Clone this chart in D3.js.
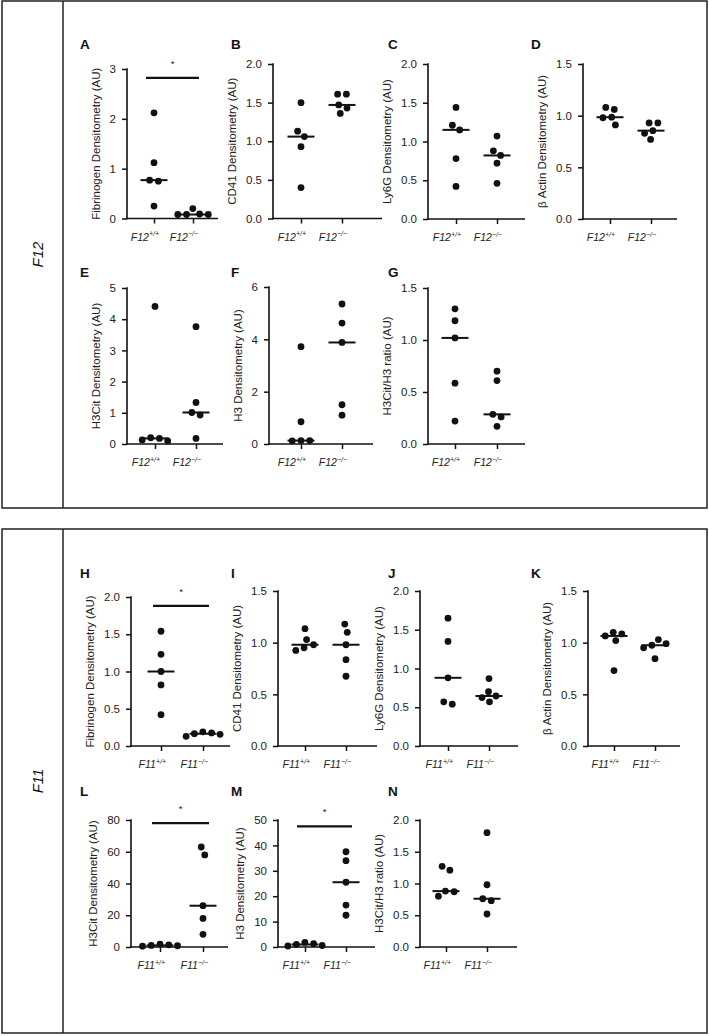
<!DOCTYPE html>
<html><head><meta charset="utf-8">
<script src="https://cdn.jsdelivr.net/npm/d3@7"></script>
<style>
body{margin:0;background:#fff}
svg{display:block}
text{font-family:"Liberation Sans",Arial,Helvetica,sans-serif}
</style>
</head><body>
<svg id="chart" width="709" height="1036"></svg>
<script>
// ---------------- DATA ----------------
const sections = ["F12", "F11"];
const panelIds = ["A","B","C","D","E","F","G","H","I","J","K","L","M","N"];
const panelGene = ["F12","F12","F12","F12","F12","F12","F12","F11","F11","F11","F11","F11","F11","F11"];
const genotypes = ["+/+", "\u2212/\u2212"];
const yTitles = [
  "Fibrinogen Densitometry (AU)", "CD41 Densitometry (AU)", "Ly6G Densitometry (AU)", "\u03B2 Actin Densitometry (AU)",
  "H3Cit Densitometry (AU)", "H3 Densitometry (AU)", "H3Cit/H3 ratio (AU)",
  "Fibrinogen Densitometry (AU)", "CD41 Densitometry (AU)", "Ly6G Densitometry (AU)", "\u03B2 Actin Densitometry (AU)",
  "H3Cit Densitometry (AU)", "H3 Densitometry (AU)", "H3Cit/H3 ratio (AU)"
];
const yTicks = [
  [0,1,2,3], [0,0.5,1,1.5,2], [0,0.5,1,1.5,2], [0,0.5,1,1.5],
  [0,1,2,3,4,5], [0,2,4,6], [0,0.5,1,1.5],
  [0,0.5,1,1.5,2], [0,0.5,1,1.5], [0,0.5,1,1.5,2], [0,0.5,1,1.5],
  [0,20,40,60,80], [0,10,20,30,40,50], [0,0.5,1,1.5,2]
];
const wtValues = [
  [2.12, 1.12, 0.77, 0.75, 0.25],
  [1.50, 1.13, 1.06, 0.93, 0.40],
  [1.44, 1.21, 1.15, 0.78, 0.42],
  [1.08, 1.06, 0.985, 0.98, 0.91],
  [4.41, 0.20, 0.18, 0.13, 0.10],
  [3.72, 0.85, 0.13, 0.13, 0.12],
  [1.30, 1.185, 1.02, 0.585, 0.22],
  [1.54, 1.23, 1.00, 0.82, 0.42],
  [1.135, 1.03, 0.98, 0.95, 0.925],
  [1.65, 1.35, 0.88, 0.57, 0.54],
  [1.10, 1.085, 1.065, 1.02, 0.73],
  [1.8, 1.4, 1.0, 0.8, 0.5],
  [1.8, 1.3, 1.0, 0.6, 0.4],
  [1.27, 1.21, 0.88, 0.87, 0.80]
];
const koValues = [
  [0.20, 0.09, 0.08, 0.08, 0.08],
  [1.61, 1.61, 1.47, 1.43, 1.36],
  [1.07, 0.88, 0.82, 0.72, 0.46],
  [0.93, 0.93, 0.855, 0.83, 0.77],
  [3.76, 1.33, 1.01, 0.93, 0.18],
  [5.35, 4.62, 3.88, 1.50, 1.10],
  [0.70, 0.61, 0.285, 0.26, 0.17],
  [0.19, 0.175, 0.165, 0.157, 0.13],
  [1.18, 1.10, 0.98, 0.835, 0.675],
  [0.87, 0.70, 0.645, 0.625, 0.57],
  [1.03, 0.99, 0.975, 0.95, 0.845],
  [63, 58, 26, 18, 8],
  [37.5, 34, 25.5, 16.5, 12.5],
  [1.80, 0.98, 0.76, 0.73, 0.52]
];
const sigPanels = ["A", "H", "L", "M"];
const sigLevels = [2.82, 1.88, 78, 47.5];
const sigLabels = ["*", "*", "*", "*"];

// ---------------- LAYOUT ----------------
const ink = "#111";
const letterX = [80, 231, 388, 531];
const letterY = [49, 277, 578, 796];
const layout = {
  A:{col:0,row:0,ax:127,top:69, bot:218.5,w:91, wt:27,ko:66},
  B:{col:1,row:0,ax:273,top:64, bot:218.5,w:109,wt:28,ko:69},
  C:{col:2,row:0,ax:428,top:64, bot:219,  w:97, wt:28,ko:69},
  D:{col:3,row:0,ax:583,top:64, bot:219,  w:94, wt:27,ko:68},
  E:{col:0,row:1,ax:127,top:288,bot:444,  w:96, wt:28,ko:69},
  F:{col:1,row:1,ax:269,top:287,bot:444,  w:104,wt:32,ko:73},
  G:{col:2,row:1,ax:428,top:288,bot:444,  w:97, wt:27,ko:69},
  H:{col:0,row:2,ax:131,top:597,bot:746,  w:99, wt:30,ko:72},
  I:{col:1,row:2,ax:278,top:591,bot:746,  w:99, wt:27,ko:68},
  J:{col:2,row:2,ax:420,top:591,bot:746,  w:98, wt:28,ko:69},
  K:{col:3,row:2,ax:588,top:591,bot:746,  w:92, wt:26,ko:67},
  L:{col:0,row:3,ax:131,top:820,bot:947,  w:97, wt:29,ko:72},
  M:{col:1,row:3,ax:278,top:820,bot:947,  w:97, wt:27,ko:68},
  N:{col:2,row:3,ax:420,top:820,bot:947,  w:97, wt:26,ko:67}
};
const frames = [{y0:1, y1:508}, {y0:529, y1:1033}];
const R = 3.4;

const svg = d3.select("#chart");

// frames
frames.forEach((f, k) => {
  svg.append("rect").attr("x", 2).attr("y", f.y0).attr("width", 705).attr("height", f.y1 - f.y0)
    .attr("fill", "none").attr("stroke", "#222").attr("stroke-width", 1.5);
  svg.append("line").attr("x1", 63).attr("x2", 63).attr("y1", f.y0).attr("y2", f.y1)
    .attr("stroke", "#222").attr("stroke-width", 1.5);
  const cy = (f.y0 + f.y1) / 2;
  svg.append("text").attr("transform", `translate(38,${cy}) rotate(-90)`)
    .attr("text-anchor", "middle").attr("dy", "0.35em")
    .attr("font-size", 15).attr("font-style", "italic").attr("fill", ink)
    .text(sections[k]);
});

// simple beeswarm
function swarm(vals, y, D) {
  const pts = vals.map(v => ({v, py: y(v), x: 0})).sort((a, b) => a.py - b.py);
  const placed = [];
  pts.forEach(p => {
    let best = null;
    for (let k = 0; k < 400 && best === null; k++) {
      const cands = k === 0 ? [0] : [k * 0.25, -k * 0.25];
      for (const c of cands) {
        if (placed.every(q => Math.hypot(q.x - c, q.py - p.py) >= D)) { best = c; break; }
      }
    }
    p.x = best; placed.push(p);
  });
  // center connected clusters
  const seen = new Set();
  placed.forEach((p, i) => {
    if (seen.has(i)) return;
    const comp = [i]; seen.add(i);
    for (let h = 0; h < comp.length; h++) {
      placed.forEach((q, j) => {
        if (!seen.has(j) && Math.hypot(placed[comp[h]].x - q.x, placed[comp[h]].py - q.py) < D + 0.6) {
          seen.add(j); comp.push(j);
        }
      });
    }
    if (comp.length > 1) {
      const m = d3.mean(comp, j => placed[j].x);
      comp.forEach(j => placed[j].x -= m);
    }
  });
  return placed;
}

panelIds.forEach((id, i) => {
  const L = layout[id];
  const g = svg.append("g").attr("transform", `translate(${L.ax},0)`);
  const ticks = yTicks[i];
  const y = d3.scaleLinear().domain([0, d3.max(ticks)]).range([L.bot, L.top]);
  const x = d3.scalePoint().domain(genotypes).range([L.wt, L.ko]);
  const fmt = ticks.some(t => !Number.isInteger(t)) ? d3.format(".1f") : d3.format("d");

  // y axis
  const ya = g.append("g").call(d3.axisLeft(y).tickValues(ticks).tickFormat(fmt).tickSize(5).tickPadding(6));
  ya.select(".domain").remove();
  ya.selectAll("line").attr("stroke", ink).attr("stroke-width", 1.5);
  ya.selectAll("text").attr("font-size", 11.5).attr("fill", "#222")
    .attr("font-family", '"Liberation Sans",Arial,sans-serif');
  g.append("line").attr("x1", 0).attr("x2", 0).attr("y1", L.top - 0.75).attr("y2", L.bot + 0.75)
    .attr("stroke", ink).attr("stroke-width", 1.6);

  // x axis
  const xa = g.append("g").attr("transform", `translate(0,${L.bot})`)
    .call(d3.axisBottom(x).tickSize(5).tickFormat(""));
  xa.select(".domain").remove();
  xa.selectAll("line").attr("stroke", ink).attr("stroke-width", 1.5);
  g.append("line").attr("x1", -0.8).attr("x2", L.w).attr("y1", L.bot).attr("y2", L.bot)
    .attr("stroke", ink).attr("stroke-width", 1.6);

  // x labels
  genotypes.forEach(gt => {
    const t = g.append("text").attr("x", x(gt) + 5).attr("y", L.bot + 22)
      .attr("text-anchor", "end").attr("font-size", 10.5).attr("font-style", "italic").attr("fill", "#222");
    t.append("tspan").text(panelGene[i]);
    t.append("tspan").attr("font-size", 7).attr("dy", -4.5).text(gt);
  });

  // y title
  let maxW = 0;
  ya.selectAll("text").each(function(){ maxW = Math.max(maxW, this.getComputedTextLength()); });
  const tx = -(5 + 6 + maxW + 9 + 5);
  g.append("text").attr("transform", `translate(${tx},${(L.top + L.bot) / 2}) rotate(-90)`)
    .attr("text-anchor", "middle").attr("dy", "0.35em")
    .attr("font-size", 11.5).attr("fill", "#222").text(yTitles[i]);

  // panel letter
  svg.append("text").attr("x", letterX[L.col]).attr("y", letterY[L.row])
    .attr("font-size", 13.5).attr("font-weight", "bold").attr("fill", ink).text(id);

  // points + medians
  [wtValues[i], koValues[i]].forEach((vals, gi) => {
    const cx = x(genotypes[gi]);
    const pts = swarm(vals, y, 2 * R + 1.8);
    g.append("g").selectAll("circle").data(pts).join("circle")
      .attr("cx", d => cx + d.x).attr("cy", d => d.py).attr("r", R).attr("fill", ink);
    const med = d3.median(vals);
    g.append("line").attr("x1", cx - 13.5).attr("x2", cx + 13.5)
      .attr("y1", y(med)).attr("y2", y(med)).attr("stroke", ink).attr("stroke-width", 2);
  });

  // significance
  const si = sigPanels.indexOf(id);
  if (si >= 0) {
    const by = y(sigLevels[si]);
    const x1 = L.wt - 8, x2 = L.ko + 6;
    g.append("line").attr("x1", x1).attr("x2", x2).attr("y1", by).attr("y2", by)
      .attr("stroke", ink).attr("stroke-width", 2.2);
    g.append("text").attr("x", (x1 + x2) / 2).attr("y", by - 11)
      .attr("text-anchor", "middle").attr("font-size", 9.5).attr("fill", "#222").text(sigLabels[si]);
  }
});
</script>
</body></html>
